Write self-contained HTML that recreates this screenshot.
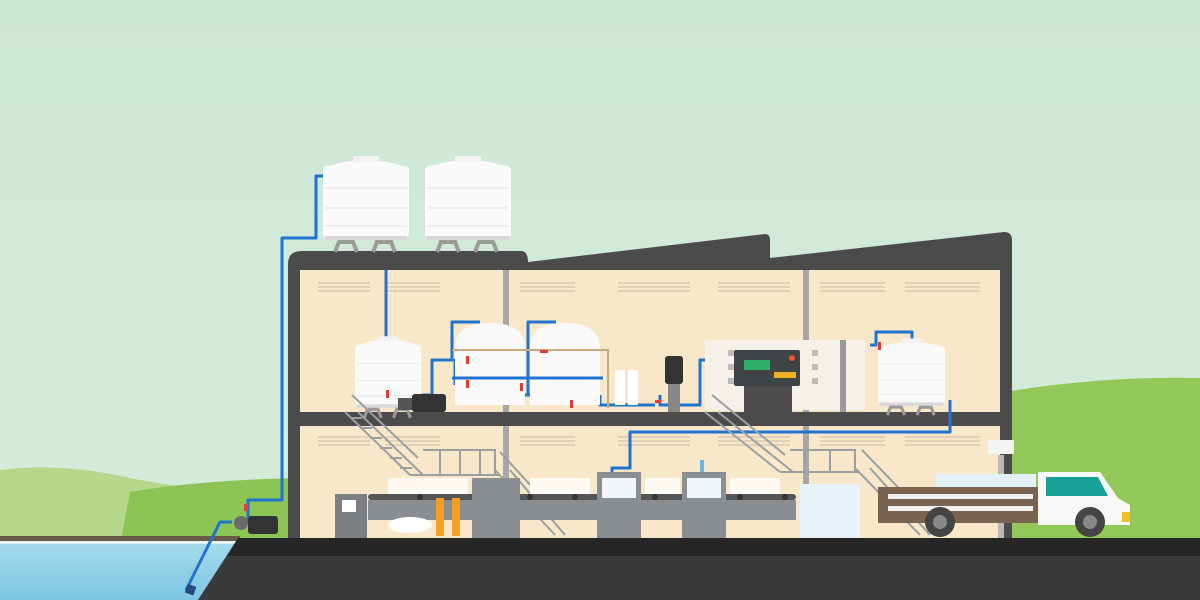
<!DOCTYPE html>
<html><head><meta charset="utf-8"><style>
html,body{margin:0;padding:0;width:1200px;height:600px;overflow:hidden;background:#d2ead8}
svg{display:block}
</style></head><body>
<svg width="1200" height="600" viewBox="0 0 1200 600" xmlns="http://www.w3.org/2000/svg">
<defs>
<linearGradient id="sky" x1="0" y1="0" x2="0" y2="1"><stop offset="0" stop-color="#cde7d5"/><stop offset="1" stop-color="#d6ecdc"/></linearGradient>
<linearGradient id="water" x1="0" y1="0" x2="0" y2="1"><stop offset="0" stop-color="#a8dcef"/><stop offset="1" stop-color="#7cc6e0"/></linearGradient>
<g id="tank"><rect x="0" y="8" width="86" height="72" rx="4" fill="#fafafa"/><path d="M6 8 Q43 -4 80 8Z" fill="#fafafa"/><rect x="30" y="-2" width="26" height="6" fill="#f2f2f2"/><g stroke="#e3e3e3" stroke-width="1"><line x1="2" y1="30" x2="84" y2="30"/><line x1="2" y1="50" x2="84" y2="50"/><line x1="2" y1="68" x2="84" y2="68"/></g><rect x="2" y="78" width="82" height="4" fill="#d8d8d8"/><g fill="none" stroke="#9a9a9a" stroke-width="4"><path d="M12 94 L16 84 L30 84 L34 94"/><path d="M50 94 L54 84 L68 84 L72 94"/></g></g>
</defs>
<rect width="1200" height="600" fill="url(#sky)"/>
<!-- hills -->
<path d="M0 470 Q60 462 130 478 Q200 492 260 490 L300 492 L300 545 L0 545Z" fill="#b6d88a"/>
<path d="M130 492 Q200 480 300 478 L300 545 L120 545Z" fill="#8cc456"/>
<path d="M1005 392 Q1100 376 1200 378 L1200 545 L1005 545Z" fill="#92c85a"/>
<!-- water -->
<rect x="0" y="538" width="240" height="62" fill="url(#water)"/>
<rect x="0" y="536" width="240" height="5" fill="#6b5a4c"/>
<rect x="0" y="541" width="240" height="3" fill="#e6f4f8"/>
<!-- ground -->
<path d="M238 538 L1200 538 L1200 600 L198 600Z" fill="#3a3a3a"/>
<path d="M238 538 L1200 538 L1200 556 L228 556Z" fill="#262626"/>
<!-- building shell -->
<path d="M288 538 L288 264 Q288 251 302 251 L522 251 Q528 252 528 262 L765 234 Q770 234 770 240 L770 258 L1004 232 Q1012 232 1012 240 L1012 538Z" fill="#4b4b4b"/>
<rect x="300" y="270" width="700" height="268" fill="#f8e7c9"/>
<!-- vents -->
<g stroke="#d8c8ae" stroke-width="1.5">
<g id="vents"><line x1="318" y1="283" x2="370" y2="283"/><line x1="318" y1="287" x2="370" y2="287"/><line x1="318" y1="291" x2="370" y2="291"/>
<line x1="385" y1="283" x2="440" y2="283"/><line x1="385" y1="287" x2="440" y2="287"/><line x1="385" y1="291" x2="440" y2="291"/>
<line x1="520" y1="283" x2="575" y2="283"/><line x1="520" y1="287" x2="575" y2="287"/><line x1="520" y1="291" x2="575" y2="291"/>
<line x1="618" y1="283" x2="690" y2="283"/><line x1="618" y1="287" x2="690" y2="287"/><line x1="618" y1="291" x2="690" y2="291"/>
<line x1="718" y1="283" x2="790" y2="283"/><line x1="718" y1="287" x2="790" y2="287"/><line x1="718" y1="291" x2="790" y2="291"/>
<line x1="820" y1="283" x2="885" y2="283"/><line x1="820" y1="287" x2="885" y2="287"/><line x1="820" y1="291" x2="885" y2="291"/>
<line x1="905" y1="283" x2="980" y2="283"/><line x1="905" y1="287" x2="980" y2="287"/><line x1="905" y1="291" x2="980" y2="291"/></g>
<use href="#vents" y="154"/>
</g>
<!-- columns -->
<rect x="503" y="270" width="6" height="268" fill="#a7a7a7"/>
<rect x="803" y="270" width="6" height="268" fill="#a7a7a7"/>
<rect x="998" y="455" width="6" height="83" fill="#b9b9b9"/>
<!-- floor slab -->
<rect x="288" y="412" width="724" height="14" fill="#4b4b4b"/>
<!-- roof tanks -->
<use href="#tank" x="323" y="158"/>
<use href="#tank" x="425" y="158"/>
<!-- main pipes -->
<g fill="none" stroke="#1f74d0" stroke-width="3" stroke-linejoin="round">
<path d="M323 176 L316 176 L316 238 L282 238 L282 500 L248 500 L248 522"/>
<path d="M232 522 L220 522 L186 590"/>
<path d="M386 270 L386 342"/>
<path d="M422 395 L432 395 L432 360 L452 360 L452 322 L480 322"/>
<path d="M455 385 L455 360 L520 360 L520 395"/>
<path d="M528 395 L528 322 L556 322"/>
<path d="M460 370 L460 395 L600 395"/>
<path d="M600 395 L600 405 L655 405"/>
<path d="M660 395 L660 405 L700 405 L700 360 L712 360"/>
<path d="M870 345 L876 345 L876 332 L912 332 L912 340"/>
<path d="M950 400 L950 432 L630 432 L630 468 L612 468 L612 478"/>
</g>
<path d="M720 350 L720 400 M860 350 L860 400" stroke="#1aa39a" stroke-width="3" fill="none"/>
<rect x="186" y="585" width="9" height="9" fill="#234a7a" transform="rotate(20 190 590)"/>
<!-- ground pump -->
<circle cx="241" cy="523" r="7" fill="#6b6b6b"/><rect x="248" y="516" width="30" height="18" rx="3" fill="#333"/>
<rect x="244" y="504" width="4" height="7" fill="#e04040"/>
<!-- second floor equipment -->
<use href="#tank" x="355" y="338" transform="translate(355 338) scale(0.77 0.85) translate(-355 -338)"/>
<path d="M455 348 Q455 323 490 323 Q525 323 525 348 L525 405 L455 405Z" fill="#fafafa"/>
<path d="M530 348 Q530 323 565 323 Q600 323 600 348 L600 405 L530 405Z" fill="#fafafa"/>
<path d="M452 350 L608 350 L608 408" stroke="#c9a880" stroke-width="2" fill="none"/>
<path d="M452 378 L603 378" stroke="#1f74d0" stroke-width="3" fill="none"/>
<rect x="398" y="398" width="14" height="12" fill="#555"/><rect x="412" y="394" width="34" height="18" rx="3" fill="#333"/>
<rect x="615" y="370" width="10" height="35" fill="#fff"/><rect x="628" y="370" width="10" height="35" fill="#fff"/>
<rect x="665" y="356" width="18" height="28" rx="3" fill="#333"/><rect x="668" y="384" width="12" height="28" fill="#888"/>
<rect x="705" y="340" width="160" height="70" fill="#f5f0e8"/>
<g fill="#bbb"><rect x="728" y="350" width="6" height="6"/><rect x="728" y="364" width="6" height="6"/><rect x="728" y="378" width="6" height="6"/><rect x="812" y="350" width="6" height="6"/><rect x="812" y="364" width="6" height="6"/><rect x="812" y="378" width="6" height="6"/><rect x="840" y="350" width="6" height="6"/><rect x="840" y="364" width="6" height="6"/></g>
<rect x="734" y="350" width="66" height="36" rx="2" fill="#3e4446"/>
<rect x="744" y="360" width="26" height="10" fill="#2fae6a"/>
<circle cx="792" cy="358" r="3" fill="#e53"/><rect x="774" y="372" width="22" height="6" fill="#f0b020"/>
<rect x="744" y="386" width="48" height="26" fill="#4b4b4b"/>
<rect x="840" y="340" width="6" height="72" fill="#9a9a9a"/>
<use href="#tank" x="878" y="340" transform="translate(878 340) scale(0.78 0.8) translate(-878 -340)"/>
<!-- red valves -->
<g fill="#e53935"><rect x="386" y="390" width="3" height="8"/><rect x="466" y="356" width="3" height="8"/><rect x="466" y="380" width="3" height="8"/><rect x="520" y="383" width="3" height="8"/><rect x="540" y="350" width="8" height="3"/><rect x="570" y="400" width="3" height="8"/><rect x="655" y="400" width="6" height="3"/><rect x="878" y="342" width="3" height="8"/></g>
<!-- stairs -->
<g stroke="#9aa0a4" stroke-width="2" fill="none">
<path d="M345 412 L410 475 M358 412 L423 475 M352 395 L418 458"/>
<path d="M350 418 L362 418 M360 428 L372 428 M370 438 L382 438 M380 448 L392 448 M390 458 L402 458 M400 468 L412 468"/>
<path d="M410 475 L500 475 M423 450 L495 450 L495 475 M440 450 L440 475 M460 450 L460 475 M480 450 L480 475"/>
<path d="M495 470 L555 535 M510 470 L565 535 M500 452 L555 512"/>
<path d="M705 412 L780 472 M718 412 L793 472 M712 395 L785 455"/>
<path d="M780 472 L860 472 M790 450 L855 450 L855 472 M805 450 L805 472 M830 450 L830 472"/>
<path d="M855 468 L920 535 M870 468 L930 535 M862 450 L920 510"/>
</g>
<!-- bottles background -->
<g fill="#fdfaf3"><rect x="388" y="478" width="80" height="22"/><rect x="530" y="478" width="60" height="22"/><rect x="645" y="478" width="35" height="22"/><rect x="730" y="478" width="50" height="22"/></g>
<!-- conveyor -->
<rect x="368" y="500" width="428" height="20" fill="#8a8e93"/>
<rect x="368" y="494" width="428" height="6" rx="3" fill="#555"/>
<g fill="#333"><circle cx="420" cy="497" r="3"/><circle cx="530" cy="497" r="3"/><circle cx="575" cy="497" r="3"/><circle cx="655" cy="497" r="3"/><circle cx="740" cy="497" r="3"/><circle cx="785" cy="497" r="3"/></g>
<rect x="335" y="494" width="32" height="44" fill="#7b7f84"/><rect x="342" y="500" width="14" height="12" fill="#fff"/>
<rect x="436" y="498" width="8" height="38" fill="#f5a020"/><rect x="452" y="498" width="8" height="38" fill="#f5a020"/>
<ellipse cx="410" cy="525" rx="22" ry="8" fill="#fff"/>
<rect x="472" y="478" width="48" height="60" fill="#8a8e93"/>
<rect x="597" y="472" width="44" height="66" fill="#8a8e93"/><rect x="602" y="478" width="34" height="20" fill="#f0f6fa"/>
<rect x="682" y="472" width="44" height="66" fill="#8a8e93"/><rect x="687" y="478" width="34" height="20" fill="#f0f6fa"/>
<rect x="700" y="460" width="4" height="12" fill="#6cb4e8"/>
<!-- pallet -->
<rect x="800" y="484" width="60" height="54" fill="#e8f2fa"/>
<!-- post -->
<rect x="988" y="440" width="26" height="14" fill="#f4f4f4"/>
<!-- truck -->
<rect x="936" y="474" width="100" height="16" fill="#e4f0f8"/>
<rect x="878" y="487" width="160" height="36" fill="#7a6250"/>
<rect x="888" y="494" width="145" height="5" fill="#f0f0f0"/><rect x="888" y="506" width="145" height="5" fill="#f0f0f0"/>
<path d="M1038 472 L1100 472 L1118 498 L1130 505 L1130 525 L1038 525Z" fill="#f8f8f8"/>
<path d="M1046 477 L1098 477 L1108 496 L1046 496Z" fill="#17a096"/>
<rect x="1122" y="512" width="8" height="10" fill="#f0c020"/>
<circle cx="940" cy="522" r="15" fill="#444"/><circle cx="940" cy="522" r="7" fill="#888"/>
<circle cx="1090" cy="522" r="15" fill="#444"/><circle cx="1090" cy="522" r="7" fill="#888"/>
</svg>
</body></html>
